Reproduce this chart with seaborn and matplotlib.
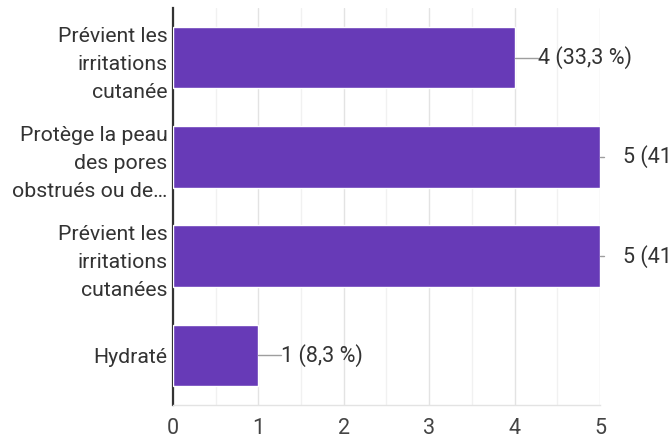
import matplotlib
matplotlib.use("Agg")
import matplotlib.pyplot as plt
import pandas as pd
import seaborn as sns
from matplotlib.ticker import MultipleLocator

categories = [
    "Prévient les\nirritations\ncutanée",
    "Protège la peau\ndes pores\nobstrués ou de…",
    "Prévient les\nirritations\ncutanées",
    "Hydraté",
]
counts = [4, 5, 5, 1]
percents = ["33,3 %", "41,7 %", "41,7 %", "8,3 %"]

sns.set_theme(style="white")
plt.rcParams["font.family"] = ["Roboto", "DejaVu Sans"]

df = pd.DataFrame({"answer": categories, "count": counts})

fig = plt.figure(figsize=(6.71, 4.42), dpi=100)
ax = fig.add_axes([0.2578, 0.0837, 0.8942 - 0.2578, 0.9819 - 0.0837])

sns.barplot(data=df, y="answer", x="count", orient="h", color="#673AB7",
            saturation=1, width=0.62, ax=ax, zorder=3)

ax.set_xlim(0, 5)
ax.set_ylim(3.5, -0.5)
ax.xaxis.set_major_locator(MultipleLocator(1))
ax.xaxis.set_minor_locator(MultipleLocator(0.5))
ax.grid(axis="x", which="major", color="#e3e3e3", lw=1, zorder=0)
ax.grid(axis="x", which="minor", color="#f1f1f1", lw=1, zorder=0)
ax.set_xlabel("")
ax.set_ylabel("")

for side in ["top", "right"]:
    ax.spines[side].set_visible(False)
ax.spines["left"].set_color("#333333")
ax.spines["left"].set_linewidth(1.6)
ax.spines["bottom"].set_color("#e3e3e3")
ax.spines["bottom"].set_linewidth(1)

ax.tick_params(axis="x", length=0, pad=9, labelsize=15.5, labelcolor="#444444")
ax.tick_params(axis="y", length=0, pad=4, labelsize=15.3, labelcolor="#333333")
for lab in ax.get_yticklabels():
    lab.set_linespacing(1.6)

# value labels with leader lines
px = 5 / (0.8942 - 0.2578) / 671  # data units per pixel
for i, (c, p) in enumerate(zip(counts, percents)):
    stub = 4 if c == max(counts) else 23
    ax.plot([c, c + stub * px], [i, i], color="#9e9e9e", lw=1, clip_on=False, zorder=4)
    ax.text(c + 23 * px, i, f"{c} ({p})", va="center", ha="left", fontsize=15.5,
            color="#333333", clip_on=False)

fig.savefig("out.png", dpi=100)
